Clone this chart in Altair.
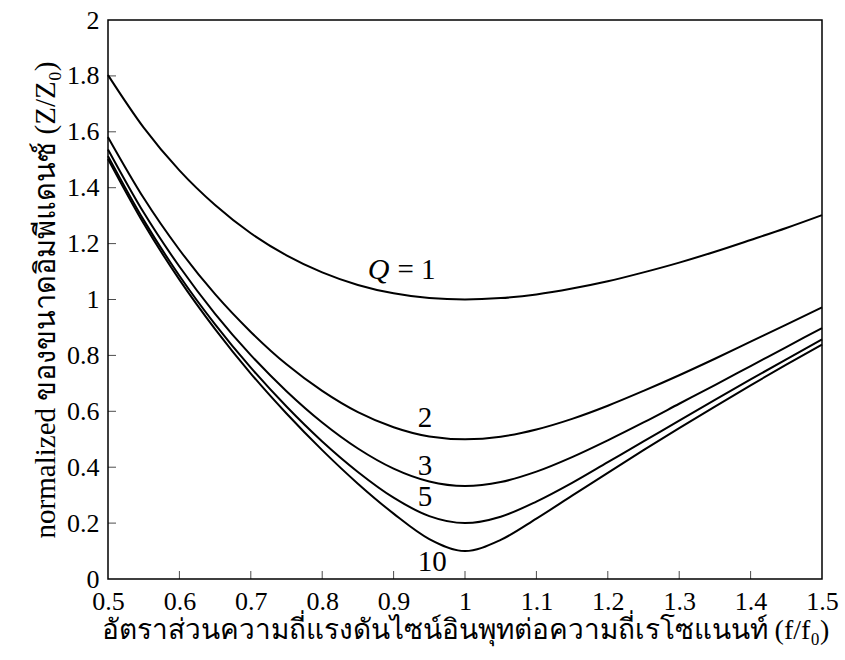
import altair as alt
import pandas as pd

x_vals = [0.50, 0.55, 0.60, 0.65, 0.70, 0.75, 0.80, 0.85, 0.90, 0.95, 1.00,
          1.05, 1.10, 1.15, 1.20, 1.25, 1.30, 1.35, 1.40, 1.45, 1.50]
q1 = [1.803, 1.615, 1.462, 1.338, 1.237, 1.158, 1.097, 1.052, 1.022, 1.005, 1.000,
      1.005, 1.018, 1.039, 1.065, 1.097, 1.132, 1.171, 1.213, 1.256, 1.302]
q2 = [1.581, 1.363, 1.178, 1.019, 0.884, 0.768, 0.673, 0.597, 0.543, 0.510, 0.500,
      0.509, 0.535, 0.573, 0.620, 0.673, 0.729, 0.788, 0.849, 0.910, 0.972]
q3 = [1.537, 1.311, 1.118, 0.949, 0.801, 0.672, 0.560, 0.467, 0.395, 0.349, 0.333,
      0.347, 0.384, 0.436, 0.496, 0.560, 0.627, 0.694, 0.762, 0.830, 0.898]
q5 = [1.513, 1.284, 1.085, 0.911, 0.756, 0.617, 0.492, 0.383, 0.291, 0.225, 0.200,
      0.223, 0.277, 0.344, 0.418, 0.492, 0.567, 0.641, 0.714, 0.786, 0.857]
q10 = [1.503, 1.272, 1.071, 0.894, 0.735, 0.592, 0.461, 0.341, 0.234, 0.143, 0.100,
       0.140, 0.216, 0.298, 0.380, 0.461, 0.540, 0.617, 0.693, 0.767, 0.839]

series_names = ["1", "2", "3", "5", "10"]
series_vals = [q1, q2, q3, q5, q10]

# curve labels (upright) and the italic "Q"
label_text = ["= 1", "2", "3", "5", "10"]
label_x = [0.932, 0.944, 0.944, 0.944, 0.954]
label_y = [1.105, 0.576, 0.404, 0.293, 0.061]
q_text = ["Q"]
q_x = [0.879]
q_y = [1.105]

x_ticks = [0.5, 0.6, 0.7, 0.8, 0.9, 1.0, 1.1, 1.2, 1.3, 1.4, 1.5]
y_ticks = [0, 0.2, 0.4, 0.6, 0.8, 1.0, 1.2, 1.4, 1.6, 1.8, 2.0]

x_title = "อัตราส่วนความถี่แรงดันไซน์อินพุทต่อความถี่เรโซแนนท์ (f/f₀)"
y_title = "normalized ของขนาดอิมพีแดนซ์ (Z/Z₀)"

rows = []
for name, vals in zip(series_names, series_vals):
    for xv, yv in zip(x_vals, vals):
        rows.append({"x": xv, "y": yv, "Q": name})
df = pd.DataFrame(rows)

lab_df = pd.DataFrame({"x": label_x, "y": label_y, "t": label_text})
q_df = pd.DataFrame({"x": q_x, "y": q_y, "t": q_text})
xt_df = pd.DataFrame({"x": x_ticks[1:-1]})
yt_df = pd.DataFrame({"y": y_ticks[1:-1]})

FONT = "Times New Roman"
W, H = 714, 559

xs = alt.Scale(domain=[0.5, 1.5], nice=False, zero=False)
ys = alt.Scale(domain=[0, 2], nice=False)

xaxis = alt.Axis(values=x_ticks, format="~g", ticks=False, domain=False, grid=False,
                 labelPadding=9, title=x_title, titlePadding=2, labelFlush=False,
                 labelFont=FONT, labelFontSize=26, labelColor="black",
                 titleFont=FONT, titleFontSize=28, titleFontWeight="normal", titleColor="black")
yaxis = alt.Axis(values=y_ticks, format="~g", ticks=False, domain=False, grid=False,
                 labelPadding=9, title=y_title, titlePadding=6, labelFlush=False,
                 labelFont=FONT, labelFontSize=26, labelColor="black",
                 titleFont=FONT, titleFontSize=29, titleFontWeight="normal", titleColor="black")

X = alt.X("x:Q", scale=xs, axis=xaxis)
Y = alt.Y("y:Q", scale=ys, axis=yaxis)

lines = alt.Chart(df).mark_line(color="black", strokeWidth=2, interpolate="monotone").encode(
    x=X, y=Y, detail="Q:N",
)

labels = alt.Chart(lab_df).mark_text(font=FONT, fontSize=29, color="black",
                                     align="center", baseline="middle").encode(
    x=X, y=Y, text="t:N",
)
qlab = alt.Chart(q_df).mark_text(font=FONT, fontSize=30, fontStyle="italic", color="black",
                                 align="center", baseline="middle").encode(
    x=X, y=Y, text="t:N",
)

xt = alt.Chart(xt_df).mark_tick(color="black", size=8, thickness=1, orient="vertical").encode(
    x=X, y=alt.value(H - 4),
)
yt = alt.Chart(yt_df).mark_tick(color="black", size=8, thickness=1, orient="horizontal").encode(
    y=Y, x=alt.value(4),
)

chart = alt.layer(lines, labels, qlab, xt, yt).properties(
    width=W, height=H,
    autosize="none",
    padding={"left": 108, "top": 20, "right": 23, "bottom": 81},
    background="white",
).configure_view(stroke="black", strokeWidth=1.5)

chart.save("out.html", embed_options={"renderer": "svg", "actions": False})
